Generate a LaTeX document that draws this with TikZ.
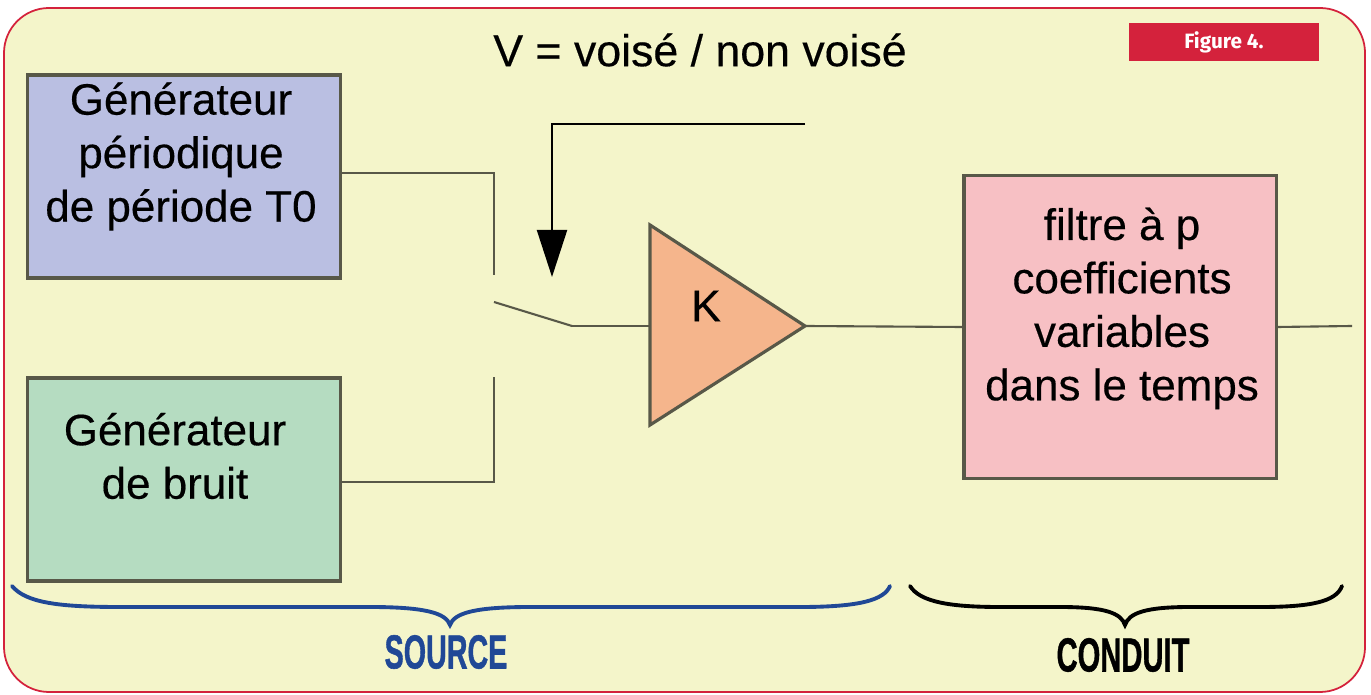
\documentclass[tikz,border=0pt]{standalone}
\usepackage{fontspec}
\setmainfont{Liberation Sans}
\newfontfamily\figfont{Fira Sans}
\newfontfamily\heavyfont{Liberation Sans}[FakeBold=1.2]
\newfontfamily\boxfont{Liberation Sans}[FakeBold=0.35]
\usetikzlibrary{arrows.meta, positioning, calc}
\definecolor{paper}{RGB}{244,245,202}
\definecolor{framered}{RGB}{212,34,60}
\definecolor{edgec}{RGB}{88,88,72}
\definecolor{bluebox}{RGB}{186,191,226}
\definecolor{greenbox}{RGB}{181,220,193}
\definecolor{pinkbox}{RGB}{247,192,196}
\definecolor{ampfill}{RGB}{245,181,140}
\definecolor{srcblue}{RGB}{32,72,150}

\begin{document}
\begin{tikzpicture}[
  x=0.01cm, y=-0.01cm,
  wire/.style={draw=edgec, line width=0.6pt},
  genbox/.style={draw=edgec, line width=0.9pt, inner sep=0pt,
    minimum width=3.12cm, minimum height=2.03cm},
  boxtext/.style={align=center, font=\boxfont\fontsize{12.5}{15.2}\selectfont},
  brace/.style={line width=1.1pt, line cap=round},
  bracelabel/.style={font=\heavyfont\fontsize{13.6}{15}\selectfont\bfseries}
  ]
  \useasboundingbox (0,0) rectangle (1371,695);
  \draw[framered, line width=0.5pt, fill=paper, rounded corners=0.45cm] (4,8) rectangle (1365,692);

  \node[fill=framered, minimum width=1.9cm, minimum height=0.38cm, inner sep=0pt,
    text=white, font=\figfont\fontsize{5.9}{6}\selectfont\bfseries] (figlabel) at (1224,42) {Figure 4.};
  \node[font=\boxfont\fontsize{12.7}{15}\selectfont] (vlabel) at (700,50) {V = voisé / non voisé};

  % source side
  \node[genbox, fill=bluebox] (periodic) at (184,176.5) {};
  \node[boxtext] (periodictxt) at ([xshift=-0.03cm, yshift=0.2cm]periodic.center)
    {Générateur\\périodique\\de période T0};
  \node[genbox, fill=greenbox] (noise) at (184,479.5) {};
  \node[boxtext] (noisetxt) at ([xshift=-0.09cm, yshift=0.235cm]noise.center)
    {Générateur\\de bruit};

  \coordinate (swA) at (494,275);
  \coordinate (swB) at (494,377);
  \coordinate (swC) at (494,302);
  \coordinate (swD) at (572,326);
  \draw[wire] ([yshift=0.035cm]periodic.east) -| (swA);
  \draw[wire] ([yshift=-0.025cm]noise.east) -| (swB);
  \draw[wire] (swC) -- (swD);

  % gain
  \coordinate (ampin) at (650,326);
  \coordinate (amptop) at (650,225);
  \coordinate (ampbot) at (650,425);
  \coordinate (ampout) at (805,326);
  \draw[edgec, line width=0.9pt, fill=ampfill, line join=miter] (amptop) -- (ampout) -- (ampbot) -- cycle;
  \node[font=\boxfont\fontsize{12.7}{15}\selectfont] (gain) at (706,306) {K};
  \draw[wire] (swD) -- (ampin);

  % voicing control
  \coordinate (ctrl) at (805,124);
  \coordinate (ctrltip) at (552,277);
  \draw[wire, -{Triangle[length=0.47cm, width=0.3cm]}, black] (ctrl) -| (ctrltip);

  % conduit
  \node[genbox, fill=pinkbox, minimum height=3.02cm] (filter) at (1120,327) {};
  \node[boxtext] (filtertxt) at ([xshift=0.02cm, yshift=0.185cm]filter.center)
    {filtre à p\\coefficients\\variables\\dans le temps};
  \coordinate (out) at (1352,326);
  \draw[wire] (ampout) -- (filter.west);
  \draw[wire] (filter.east) -- (out);

  % braces
  \draw[brace, srcblue] (12,586) .. controls (26,603) and (60,607) .. (120,607)
    -- (370,607) .. controls (425,607) and (446,613) .. (450,625)
    .. controls (454,613) and (475,607) .. (530,607)
    -- (800,607) .. controls (860,607) and (884,600) .. (890,586);
  \node[bracelabel, text=srcblue] (source) at (446,652) {\scalebox{0.6}[1]{SOURCE}};
  \draw[brace, black] (910,586) .. controls (920,602) and (950,607) .. (1000,607)
    -- (1060,607) .. controls (1105,607) and (1121,613) .. (1125,625)
    .. controls (1129,613) and (1145,607) .. (1190,607)
    -- (1260,607) .. controls (1310,607) and (1336,602) .. (1342,586);
  \node[bracelabel] (conduit) at (1123,655) {\scalebox{0.61}[1]{CONDUIT}};
\end{tikzpicture}
\end{document}
